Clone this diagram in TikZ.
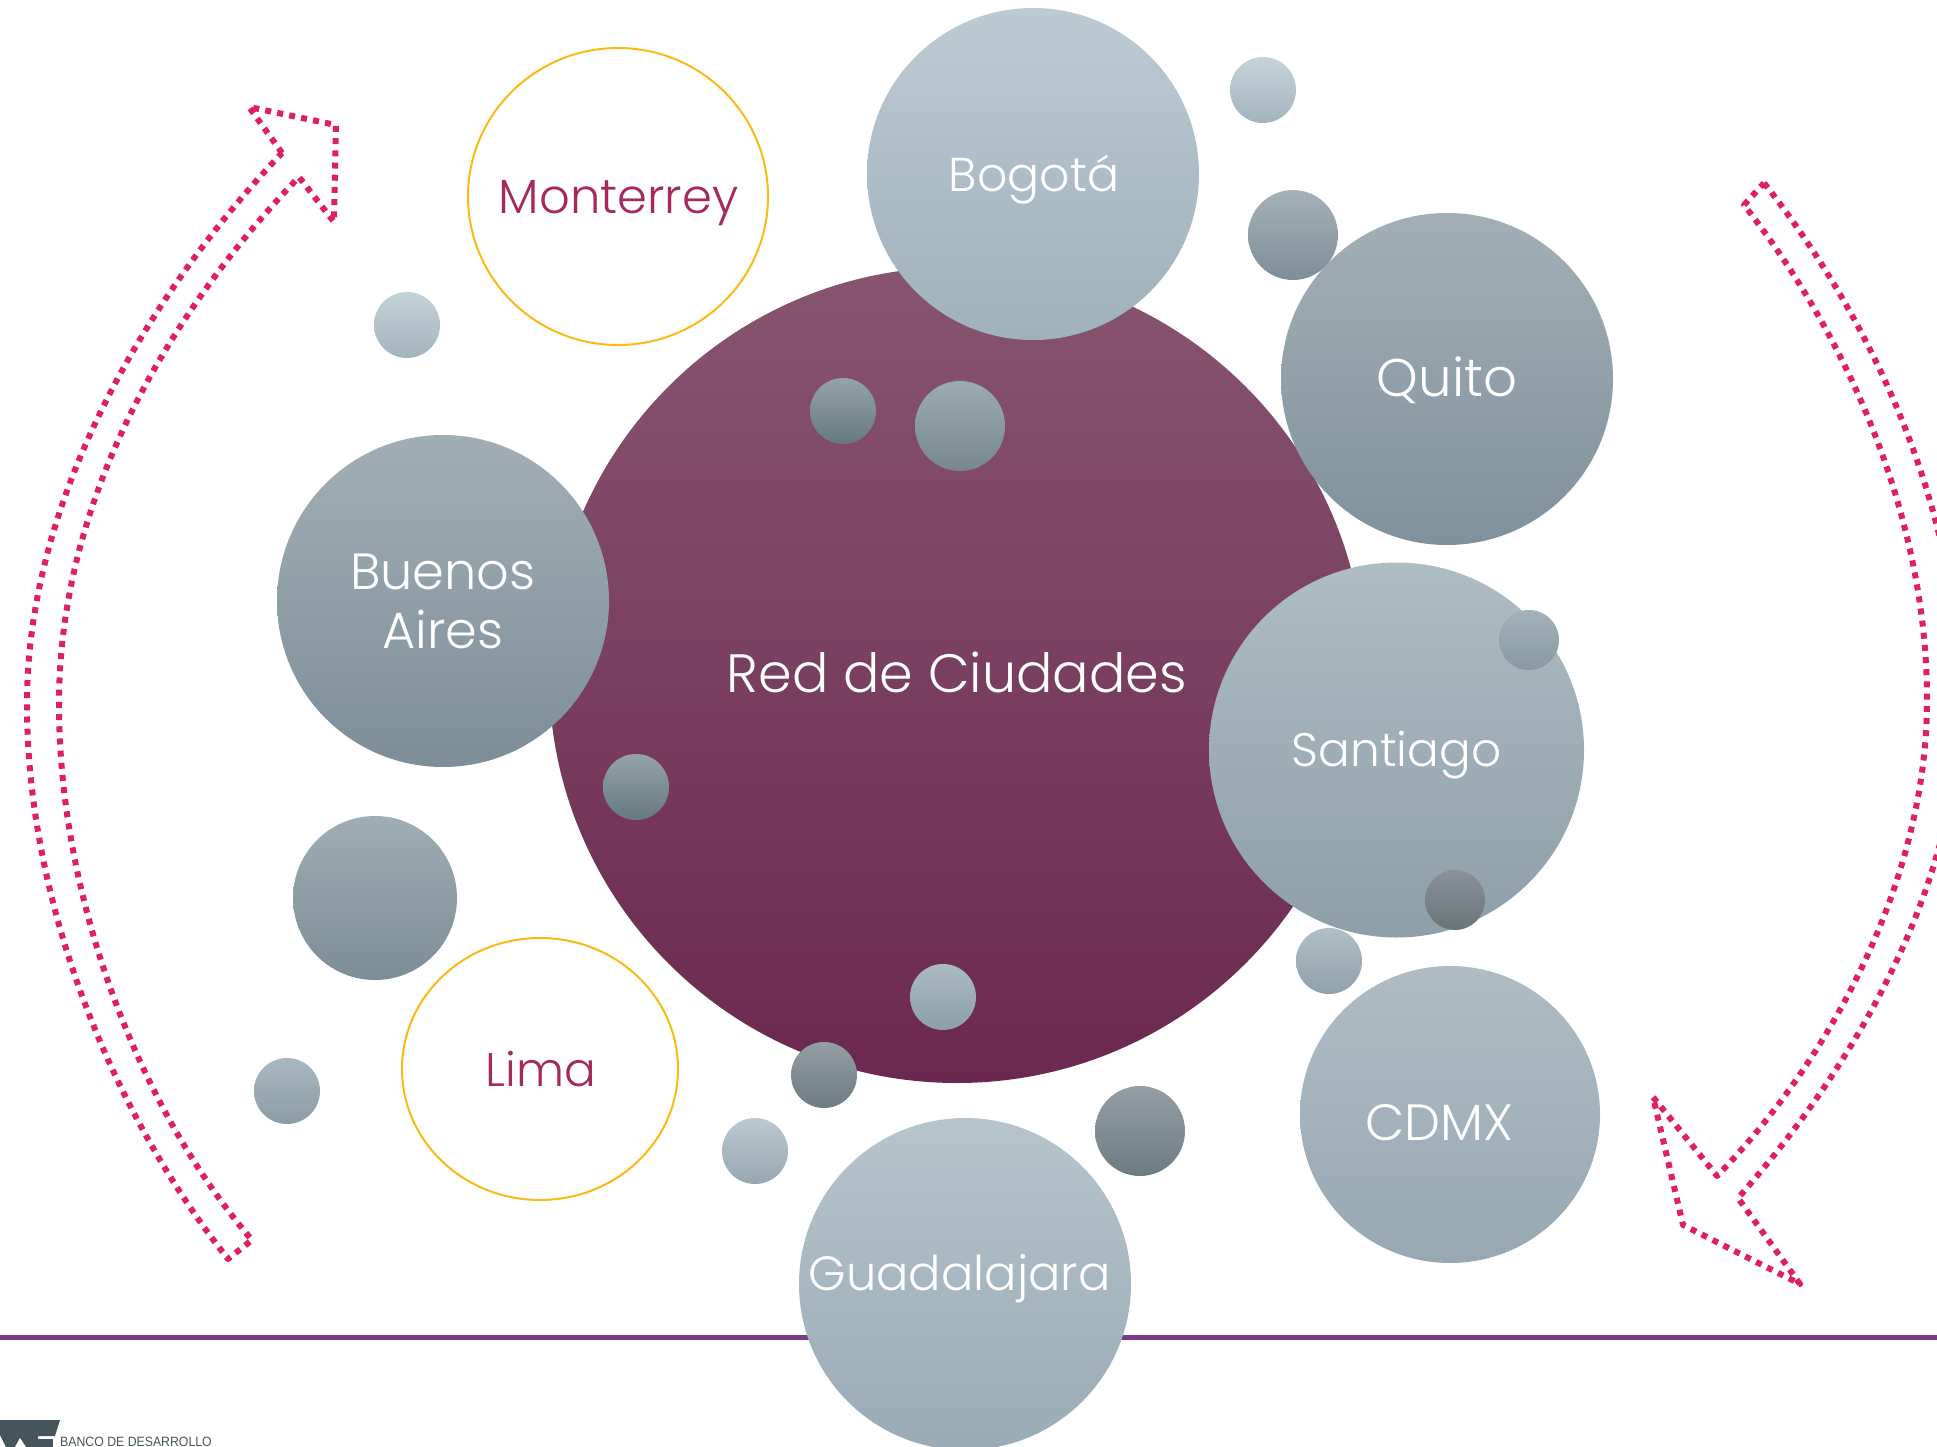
\documentclass[tikz,border=0pt]{standalone}
\usepackage{xcolor}
\usepackage{fontspec}
\usetikzlibrary{shapes.geometric}
\newfontfamily\labelfont{Poppins Light}
\newfontfamily\logofont[FakeStretch=0.91]{Liberation Sans}
\definecolor{wine}{HTML}{A6285C}
\definecolor{arrowpink}{HTML}{E01F5E}
\definecolor{ringgold}{HTML}{FDB913}
\definecolor{rulepurple}{HTML}{7A3C85}
\definecolor{logogray}{HTML}{46545C}
\definecolor{redtop}{HTML}{875570}
\definecolor{redmid}{HTML}{742F54}
\definecolor{redbot}{HTML}{6B2850}
\tikzset{
  bubble/.style n args={3}{circle, inner sep=0pt, minimum size=#1, draw=none,
    /utils/exec={\definecolor{bubtop}{HTML}{#2}\definecolor{bubbot}{HTML}{#3}},
    top color=bubtop, bottom color=bubbot},
  cityname/.style={text=white, align=center, inner sep=0pt, font=\labelfont\fontsize{#1}{59}\selectfont},
  ringname/.style={text=wine, align=center, inner sep=0pt, font=\labelfont\fontsize{#1}{59}\selectfont},
  ring/.style={ellipse, fill=white, draw=ringgold, line width=2pt, inner sep=0pt},
  dotline/.style={draw=arrowpink, line width=6pt, line join=round, dash pattern=on 6pt off 6.2pt}
}
\begin{document}
\begin{tikzpicture}[x=1pt, y=-1pt]
\useasboundingbox (0,0) rectangle (1937,1447);
\coordinate (rulea) at (0,1337);
\coordinate (ruleb) at (1937,1337);
\draw[rulepurple, line width=5pt] (rulea) -- (ruleb);

\node[circle, inner sep=0pt, minimum size=816pt, draw=none, top color=redtop, middle color=redmid, bottom color=redbot] (red) at (957,675) {};
\node[bubble={332pt}{A2AEB5}{7D8E99}] (buenos) at (443,601) {};
\node[bubble={332pt}{BCCAD3}{9FB1BC}] (bogota) at (1033,174) {};
\node[bubble={90pt}{A5B1B8}{7D8E99}] (dotf) at (1293,235) {};
\node[bubble={332pt}{A3AFB6}{7F919C}] (quito) at (1447,379) {};
\node[bubble={375pt}{AEBCC3}{8E9FA9}] (santiago) at (1396.5,750) {};
\node[bubble={300pt}{AFBCC4}{97A8B3}, ellipse, minimum height=297pt] (cdmx) at (1450,1114.5) {};
\node[bubble={332pt}{B6C4CC}{99ABB6}] (guadalajara) at (965,1284) {};
\node[ring, minimum width=300pt, minimum height=297pt] (monterrey) at (618,196.5) {};
\node[ring, minimum width=276pt, minimum height=262pt] (lima) at (540,1069) {};

\node[cityname=54] (redtext) at (957,672.5) {Red de Ciudades};
\node[cityname=51] (buenostext) at (443,601) {Buenos\\Aires};
\node[cityname=47.5] (bogotatext) at (1034,180) {Bogotá};
\node[cityname=53] (quitotext) at (1447,380) {Quito};
\node[cityname=47] (santiagotext) at (1396.5,755) {Santiago};
\node[cityname=51] (cdmxtext) at (1439.5,1123) {CDMX};
\node[cityname=48] (guadalajaratext) at (959.5,1279) {Guadalajara};
\node[ringname=48] (monterreytext) at (618.5,203) {Monterrey};
\node[ringname=47] (limatext) at (541,1069) {Lima};

\foreach \dotname/\dotx/\doty/\dotsize/\dottop/\dotbot in {
  dota/1263/90/66/C5D3DA/A4B4BE,
  dotb/1529/640/60/A3B2BA/8899A3,
  dotc/1455/900/60/8A9299/697479,
  dotd/1329/961/66/B1BFC6/8EA0AB,
  dote/1140/1131/90/949FA5/6D7B83,
  dotg/943/997/66/ABBAC1/8C9EA9,
  doth/824/1075/66/949FA5/6D7B83,
  doti/755/1151/66/BBC8D0/97A7B1,
  dotj/287/1091/66/A9B8C0/8B9CA6,
  dotk/375/898/164/9FADB4/7C8D97,
  dotl/636/787/66/93A3A8/667880,
  dotm/843/411/66/93A3A8/667880,
  dotn/960/426/90/9DABB1/77878F,
  doto/407/325/66/C4D2D9/A4B4BE}
  \node[bubble={\dotsize pt}{\dottop}{\dotbot}] (\dotname) at (\dotx,\doty) {};

\draw[dotline] (282,153) -- (249,107) -- (336,125) -- (334,222) -- (299,177)
  .. controls (190,290) and (59,480) .. (59,704)
  .. controls (59,900) and (140,1110) .. (252,1240)
  -- (228,1259)
  .. controls (110,1110) and (27,900) .. (27,704)
  .. controls (27,480) and (170,270) .. (282,153);
\draw[dotline] (1764,183) .. controls (1880,330) and (1960,520) .. (1960,700)
  .. controls (1960,880) and (1860,1060) .. (1738,1198)
  -- (1800,1284) -- (1683,1225) -- (1653,1097) -- (1717,1176)
  .. controls (1830,1060) and (1927,880) .. (1927,700)
  .. controls (1927,520) and (1850,340) .. (1744,205)
  -- (1764,183);

\fill[logogray] (0,1420) -- (60,1420) -- (55,1436) -- (38,1436) -- (38,1447) -- (6,1447) -- (0,1435) -- cycle;
\fill[logogray] (38,1439) rectangle (53,1447);
\fill[white] (15,1447) -- (20,1438) -- (26,1447) -- cycle;
\node[anchor=base west, inner sep=0pt, text=logogray, font=\logofont\fontsize{13.5}{16}\selectfont] (logotext) at (60,1446.5) {BANCO DE DESARROLLO};
\end{tikzpicture}
\end{document}
